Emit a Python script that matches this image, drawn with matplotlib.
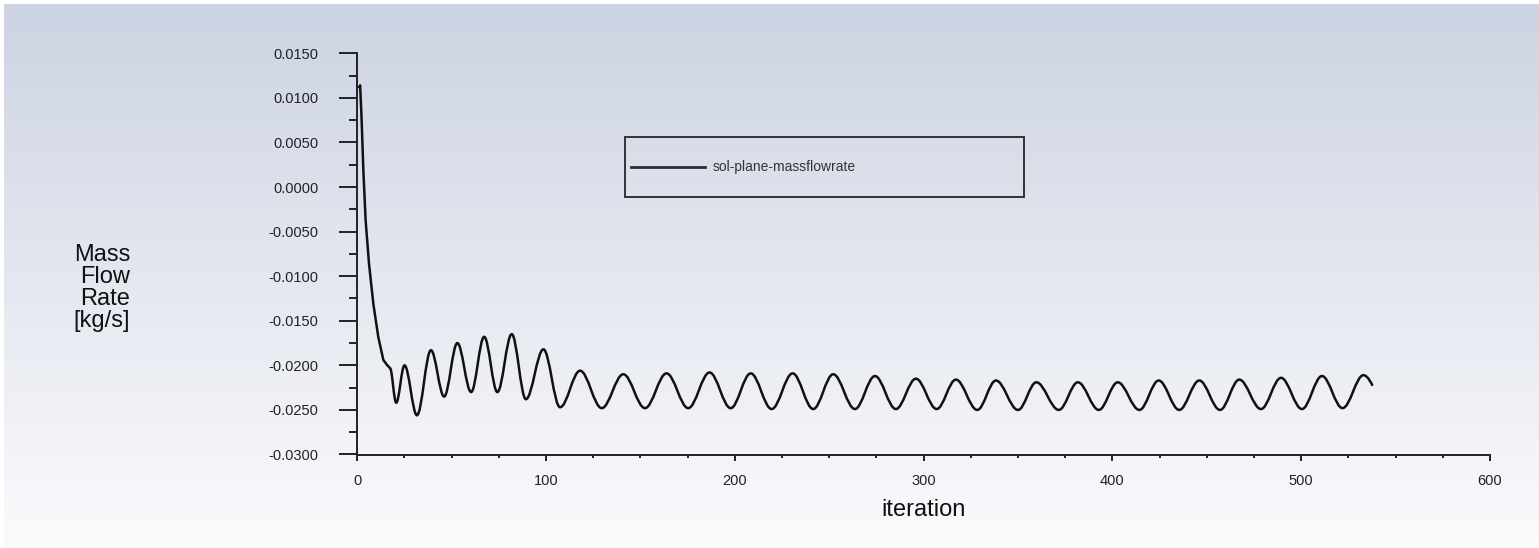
import numpy as np
import matplotlib as mpl
mpl.use('Agg')
import matplotlib.pyplot as plt
from matplotlib.path import Path
import matplotlib.patches as mpatches
from matplotlib.lines import Line2D
from matplotlib.ticker import MultipleLocator, FormatStrFormatter

plt.rcParams['font.family'] = ['Liberation Sans', 'DejaVu Sans']

# start-up transient
trans_iter = [1.0, 1.5, 2.3, 3.2, 4.4, 6.2, 8.5, 11.1, 13.8, 15.9, 17.3]
trans_val = [0.0112, 0.0114, 0.0075, 0.0019, -0.0037, -0.0086, -0.0131,
             -0.0168, -0.0194, -0.0200, -0.0203]

# peaks and troughs of the oscillation after that
ext_iter = [17.3, 20.6, 25.0, 31.6, 39.0, 46.0, 53.0, 60.3, 67.2, 74.2,
            81.8, 89.3, 98.6, 107.4, 118.0, 129.5, 140.9, 152.4, 163.8, 175.3,
            186.6, 197.8, 208.4, 219.5, 230.6, 241.5, 252.1, 263.6, 274.2, 285.3,
            295.9, 306.9, 317.1, 328.4, 338.3, 350.0, 359.7, 371.6, 381.7, 392.8,
            402.8, 414.3, 424.5, 435.4, 446.0, 457.0, 467.2, 478.7, 489.3, 500.4,
            511.0, 521.9, 533.0]
ext_val = [-0.0203, -0.0242, -0.0200, -0.0256, -0.0183, -0.0235, -0.0175, -0.0230, -0.0168, -0.0230,
           -0.0165, -0.0238, -0.0182, -0.0247, -0.0206, -0.0248, -0.0210, -0.0248, -0.0209, -0.0248,
           -0.0208, -0.0248, -0.0209, -0.0249, -0.0209, -0.0249, -0.0210, -0.0249, -0.0212, -0.0249,
           -0.0215, -0.0249, -0.0216, -0.0250, -0.0217, -0.0250, -0.0219, -0.0250, -0.0219, -0.0250,
           -0.0219, -0.0250, -0.0217, -0.0250, -0.0217, -0.0250, -0.0216, -0.0249, -0.0214, -0.0249,
           -0.0212, -0.0248, -0.0211]

last_iter = 537.6
last_val = -0.0222

series_name = "sol-plane-massflowrate"

fig = plt.figure(figsize=(15.39, 5.48), dpi=100)
fig.patch.set_facecolor('white')

# background gradient like the Fluent window
bg = fig.add_axes([4 / 1539, 1 / 548, 1535 / 1539, 543 / 548])
grad = np.linspace(0, 1, 256).reshape(-1, 1)
top = np.array([204, 211, 226]) / 255.0
bot = np.array([251, 251, 253]) / 255.0
img = top[None, None, :] * (1 - grad[:, :, None]) + bot[None, None, :] * grad[:, :, None]
bg.imshow(img, aspect='auto', extent=[0, 1, 0, 1])
bg.set_axis_off()
bg.set_zorder(-5)

ax = fig.add_axes([357.3 / 1539, 1 - 454.5 / 548, (1490 - 357.3) / 1539, (454.5 - 53.3) / 548])
ax.patch.set_alpha(0)

# build the curve: straight pieces for the transient, smooth halves between extrema
verts = [(trans_iter[0], trans_val[0])]
codes = [Path.MOVETO]
for x, y in zip(trans_iter[1:], trans_val[1:]):
    verts.append((x, y))
    codes.append(Path.LINETO)
pts = list(zip(ext_iter, ext_val))
for (x0, y0), (x1, y1) in zip(pts[:-1], pts[1:]):
    dx = x1 - x0
    verts += [(x0 + 0.36 * dx, y0), (x1 - 0.36 * dx, y1), (x1, y1)]
    codes += [Path.CURVE4] * 3
x0, y0 = pts[-1]
verts += [(x0 + 0.5 * (last_iter - x0), y0), (last_iter, last_val), (last_iter, last_val)]
codes += [Path.CURVE4] * 3

curve = mpatches.PathPatch(Path(verts, codes), fill=False, lw=1.8,
                           edgecolor='#111111', joinstyle='round', capstyle='round')
ax.add_patch(curve)

ax.set_xlim(0, 600)
ax.set_ylim(-0.030, 0.015)

for s in ['top', 'right']:
    ax.spines[s].set_visible(False)
for s in ['left', 'bottom']:
    ax.spines[s].set_linewidth(1.4)
    ax.spines[s].set_color('#222222')

ax.xaxis.set_major_locator(MultipleLocator(100))
ax.xaxis.set_minor_locator(MultipleLocator(25))
ax.yaxis.set_major_locator(MultipleLocator(0.005))
ax.yaxis.set_minor_locator(MultipleLocator(0.0025))
ax.yaxis.set_major_formatter(FormatStrFormatter('%.4f'))

ax.tick_params(axis='y', which='major', length=13, width=1.4, color='#222222',
               labelsize=10.5, labelcolor='#222222', pad=15)
ax.tick_params(axis='y', which='minor', length=6, width=1.4, color='#222222')
ax.tick_params(axis='x', which='major', length=4.3, width=1.4, color='#222222',
               labelsize=10.5, labelcolor='#222222', pad=9.5)
ax.tick_params(axis='x', which='minor', length=2, width=1.4, color='#222222')

ax.set_xlabel("iteration", fontsize=17, color='#111111', labelpad=8)

# y label, one word per line, right aligned
for txt, ypx in zip(["Mass", "Flow", "Rate", "[kg/s]"], [255, 277, 299, 321]):
    fig.text(130 / 1539, 1 - ypx / 548, txt, ha='right', va='center',
             fontsize=17, color='#111111')

# legend box
fig.patches.append(mpatches.Rectangle((625 / 1539, 1 - 197 / 548), 399 / 1539, 60 / 548,
                                      transform=fig.transFigure, fill=False,
                                      edgecolor='#333333', lw=1.4))
fig.lines.append(Line2D([631 / 1539, 705 / 1539], [1 - 167 / 548, 1 - 167 / 548],
                        transform=fig.transFigure, color='#2a2e38', lw=2))
fig.text(713 / 1539, 1 - 167 / 548, series_name, ha='left', va='center',
         fontsize=10, color='#333333')

plt.savefig('out.png', dpi=100)
